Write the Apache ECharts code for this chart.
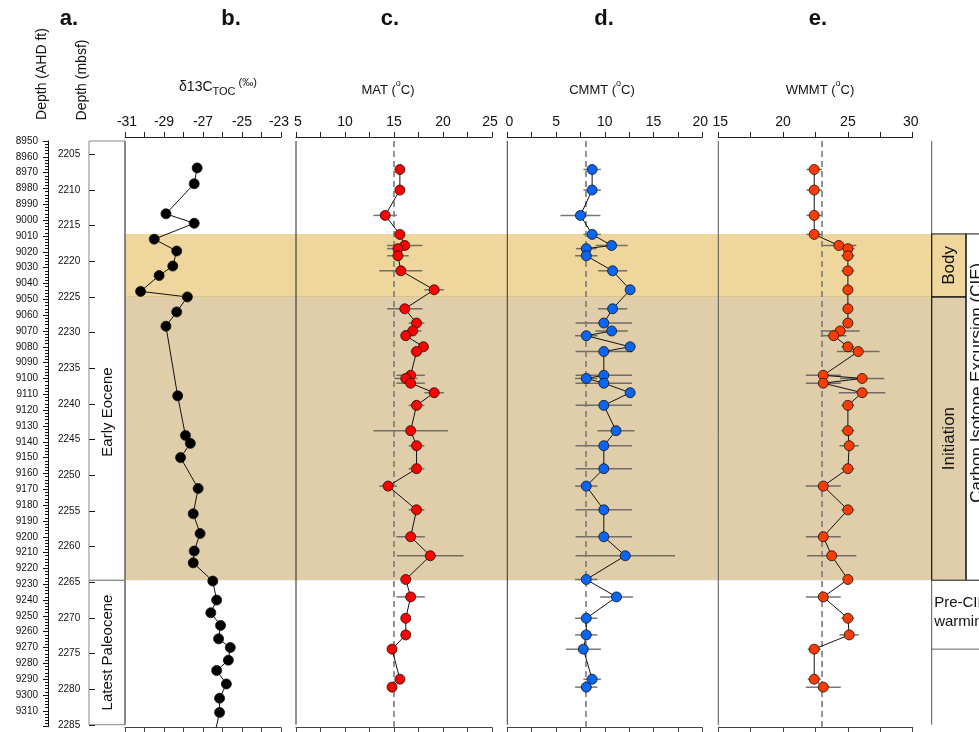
<!DOCTYPE html>
<html><head><meta charset="utf-8">
<script src="https://cdn.jsdelivr.net/npm/echarts@6/dist/echarts.min.js"></script>
<style>html,body{margin:0;padding:0;background:#fff}#c{width:979px;height:732px}</style>
</head><body><div id="c"></div>
<script>
// ---------------- DATA ----------------
// b. δ13C TOC (‰) vs depth (AHD ft)
const depthC = [8967, 8977, 8996, 9002, 9012, 9019.5, 9029, 9035, 9045, 9048.5, 9058, 9067, 9111, 9136, 9141, 9150, 9169.5, 9185.5, 9198, 9209, 9216.5, 9228, 9240, 9248, 9256, 9264.5, 9270, 9278, 9284.5, 9293, 9302, 9311, 9330];
const d13C = [-27.3, -27.45, -28.9, -27.45, -29.5, -28.35, -28.55, -29.25, -30.2, -27.8, -28.35, -28.9, -28.3, -27.9, -27.65, -28.15, -27.25, -27.5, -27.15, -27.45, -27.5, -26.5, -26.3, -26.6, -26.1, -26.2, -25.6, -25.7, -26.3, -25.8, -26.15, -26.15, -26.5];

// c, d, e: temperature reconstructions (depth AHD ft)
const depthT = [8968, 8981, 8997, 9009, 9016, 9018, 9022.5, 9032, 9044, 9056, 9065, 9070, 9073, 9080, 9083, 9098, 9100, 9103, 9109, 9117, 9133, 9142.5, 9157, 9168, 9183, 9200, 9212, 9227, 9238, 9251.5, 9262, 9271, 9290, 9295];
const mat    = [15.6, 15.6, 14.1, 15.6, 16.1, 15.4, 15.4, 15.7, 19.1, 16.1, 17.3, 16.9, 16.2, 18.0, 17.3, 16.7, 16.2, 16.7, 19.1, 17.3, 16.7, 17.3, 17.3, 14.4, 17.3, 16.7, 18.7, 16.2, 16.7, 16.2, 16.2, 14.8, 15.6, 14.8];
const matErr = [0, 0, 1.2, 0, 1.8, 1.1, 1.1, 2.2, 1.0, 1.8, 0.8, 0.9, 0, 0, 0.6, 1.45, 1.2, 1.45, 1.0, 0.8, 3.8, 0.8, 0.8, 0.9, 0.8, 1.45, 3.4, 0, 1.45, 0, 0, 0, 0, 0];
const cmmt    = [8.7, 8.7, 7.5, 8.7, 10.7, 8.1, 8.1, 10.8, 12.6, 10.8, 9.9, 10.7, 8.1, 12.6, 9.9, 9.9, 8.1, 9.9, 12.6, 9.9, 11.15, 9.9, 9.9, 8.1, 9.9, 9.9, 12.1, 8.1, 11.2, 8.1, 8.1, 7.8, 8.7, 8.1];
const cmmtErr = [0.9, 0.9, 2.05, 0.9, 1.65, 1.05, 1.15, 1.5, 0, 1.5, 2.9, 1.65, 1.15, 0, 2.9, 2.9, 1.15, 2.9, 0, 2.9, 1.9, 2.9, 2.9, 1.15, 2.9, 2.9, 5.1, 1.15, 1.7, 1.15, 1.15, 1.8, 0.9, 1.15];
const wmmt    = [22.4, 22.4, 22.4, 22.4, 24.3, 25.0, 25.0, 25.0, 25.0, 25.0, 25.0, 24.4, 23.9, 25.0, 25.8, 23.1, 26.1, 23.1, 26.1, 25.0, 25.0, 25.1, 25.0, 23.1, 25.0, 23.1, 23.75, 25.0, 23.1, 25.0, 25.1, 22.4, 22.4, 23.1];
const wmmtErr = [0.6, 0.6, 0.6, 0.6, 1.35, 0.5, 0.5, 0.5, 0.4, 0.4, 0.4, 1.5, 1.0, 0.5, 1.65, 1.35, 1.7, 1.35, 1.8, 0.5, 0.5, 0.75, 0.5, 1.35, 0.5, 1.35, 1.9, 0.4, 1.35, 0.5, 0.75, 0.5, 0.5, 1.35];

// reference (dashed) lines
const matRef = 15, cmmtRef = 8, wmmtRef = 23;

// intervals (depth AHD ft)
const epochs = [[8950, 9227.5], [9227.5, 9320]];
const epochNames = ['Early Eocene', 'Latest Paleocene'];
const cieZones = [[9008.7, 9048.5], [9048.5, 9227.5]];
const cieZoneNames = ['Body', 'Initiation'];
const cieName = 'Carbon Isotope Excursion (CIE)';
const preCie = [9227.5, 9271];
const preCieName = 'Pre-CIE\nwarming';

// axes ranges / ticks
const depthRange = [8950, 9320];
const mbsfRange = [2203.14, 2285.24];
const mbsfTicks = [2205, 2210, 2215, 2220, 2225, 2230, 2235, 2240, 2245, 2250, 2255, 2260, 2265, 2270, 2275, 2280, 2285];
const d13CAxis = [-31, -23, 2];
const matAxis = [5, 25, 5];
const cmmtAxis = [0, 20, 5];
const wmmtAxis = [15, 30, 5];

// ---------------- LAYOUT / STYLE ----------------
const FONT = '"Liberation Sans", Arial, sans-serif';
const TOP = 141, PXFT = 1.583;
const H = (depthRange[1] - depthRange[0]) * PXFT;
const panels = [
  {left: 125, width: 156},
  {left: 296, width: 196},
  {left: 507.3, width: 195},
  {left: 718.3, width: 194.4}
];
const frameX = [125, 296, 507.3, 718.3, 931.7];
const frameColor = ['#111', '#222', '#333', '#555', '#555'];
const bandFill = ['#EFD69C', '#DFCEA9'];
const bandEdge = '#D6BC82';
const epochLabelFrac = [0.617, 0.5];
const plain = v => String(v);

const grids = [
  {left: 89, top: TOP, width: 36, height: H},            // 0 a
  {left: panels[0].left, top: TOP, width: panels[0].width, height: H}, // 1 b
  {left: panels[1].left, top: TOP, width: panels[1].width, height: H}, // 2 c
  {left: panels[2].left, top: TOP, width: panels[2].width, height: H}, // 3 d
  {left: panels[3].left, top: TOP, width: panels[3].width, height: H}, // 4 e
  {left: 125, top: TOP, width: 841, height: H},          // 5 background bands
  {left: 931.7, top: TOP, width: 34.3, height: H}        // 6 CIE column
].map(g => Object.assign({outerBoundsMode: 'none', containLabel: false, show: false}, g));

function hiddenX(gi) {
  return {type: 'value', gridIndex: gi, min: 0, max: 1, show: false};
}
function hiddenY(gi) {
  return {type: 'value', gridIndex: gi, min: depthRange[0], max: depthRange[1], inverse: true, show: false};
}
function topAxis(gi, ax) {
  return {
    type: 'value', gridIndex: gi, position: 'top', min: ax[0], max: ax[1], interval: ax[2], offset: 4,
    axisLine: {show: true, onZero: false, lineStyle: {color: '#222', width: 1}},
    axisTick: {show: true, inside: false, length: 5, lineStyle: {color: '#222', width: 1}},
    minorTick: {show: true, splitNumber: 2, length: 5, lineStyle: {color: '#222', width: 1}},
    axisLabel: {
      show: true, margin: 8, fontSize: 14, color: '#111', fontFamily: FONT, hideOverlap: false,
      formatter: v => v === ax[1] ? '{mx|' + v + '}' : (v === ax[0] ? '{mn|' + v + '}' : String(v)),
      rich: {
        mx: {fontSize: 14, fontFamily: FONT, color: '#111', padding: [0, 4, 0, 0]},
        mn: {fontSize: 14, fontFamily: FONT, color: '#111', padding: [0, 0, 0, 4]}
      }
    },
    splitLine: {show: false}, minorSplitLine: {show: false}
  };
}
function bottomAxis(gi, ax) {
  return {
    type: 'value', gridIndex: gi, position: 'bottom', min: ax[0], max: ax[1], interval: ax[2], offset: 1,
    axisLine: {show: true, onZero: false, lineStyle: {color: '#444', width: 1}},
    axisTick: {show: true, inside: false, length: 5, lineStyle: {color: '#444', width: 1}},
    minorTick: {show: true, splitNumber: 2, length: 5, lineStyle: {color: '#444', width: 1}},
    axisLabel: {show: false},
    splitLine: {show: false}, minorSplitLine: {show: false}
  };
}

const xAxes = [
  hiddenX(0),                                 // 0
  topAxis(1, d13CAxis), bottomAxis(1, d13CAxis), // 1,2
  topAxis(2, matAxis), bottomAxis(2, matAxis),   // 3,4
  topAxis(3, cmmtAxis), bottomAxis(3, cmmtAxis), // 5,6
  topAxis(4, wmmtAxis), bottomAxis(4, wmmtAxis), // 7,8
  hiddenX(5),                                 // 9
  hiddenX(6)                                  // 10
];

const yAxes = [
  { // 0 depth AHD ft
    type: 'value', gridIndex: 0, position: 'left', offset: 41, inverse: true,
    min: depthRange[0], max: depthRange[1], interval: 10,
    axisLine: {show: true, onZero: false, lineStyle: {color: '#111', width: 1}},
    axisTick: {show: true, inside: false, length: 5, lineStyle: {color: '#111'}},
    minorTick: {show: true, splitNumber: 5, length: 3, lineStyle: {color: '#111'}},
    axisLabel: {show: true, margin: 10, fontSize: 10, color: '#111', fontFamily: FONT, showMaxLabel: false, hideOverlap: false, formatter: plain},
    splitLine: {show: false}
  },
  { // 1 depth mbsf
    type: 'value', gridIndex: 0, position: 'left', offset: 41, inverse: true,
    min: mbsfRange[0], max: mbsfRange[1],
    axisLine: {show: false},
    axisTick: {show: true, inside: true, length: 6, customValues: mbsfTicks, lineStyle: {color: '#111'}},
    axisLabel: {show: true, inside: true, margin: 10, fontSize: 10, color: '#111', fontFamily: FONT, customValues: mbsfTicks, formatter: plain},
    splitLine: {show: false}
  },
  hiddenY(1), hiddenY(2), hiddenY(3), hiddenY(4), hiddenY(5), hiddenY(6)
];

function errBarSeries(xi, yi, vals, errs, ref) {
  return {
    type: 'custom', xAxisIndex: xi, yAxisIndex: yi, z: 3, silent: true,
    data: depthT.map((d, i) => [vals[i], d, errs[i]]),
    encode: {x: 0, y: 1},
    renderItem: function (params, api) {
      const v = api.value(0), d = api.value(1), e = api.value(2);
      if (!e) return null;
      const p1 = api.coord([v - e, d]), p2 = api.coord([v + e, d]);
      return {type: 'line', shape: {x1: p1[0], y1: p1[1], x2: p2[0], y2: p2[1]},
              style: {stroke: 'rgba(85,85,85,0.8)', lineWidth: 1.5}};
    },
    markLine: {
      silent: true, symbol: ['none', 'none'], label: {show: false},
      lineStyle: {color: '#7a7a7a', type: [6, 4], width: 1.6},
      data: [{xAxis: ref}]
    }
  };
}
function lineSeries(xi, yi, vals, depths, fill) {
  return {
    type: 'line', xAxisIndex: xi, yAxisIndex: yi, z: 5, silent: true,
    data: depths.map((d, i) => [vals[i], d]),
    symbol: 'circle', symbolSize: 10, showSymbol: true,
    itemStyle: {color: fill, borderColor: '#111', borderWidth: 0.8},
    lineStyle: {color: '#111', width: 1},
    clip: true
  };
}

const series = [
  { // background CIE bands
    type: 'custom', xAxisIndex: 9, yAxisIndex: 6, z: 0, silent: true,
    data: cieZones, encode: {x: -1, y: [0, 1]},
    renderItem: function (params, api) {
      const cs = params.coordSys, i = params.dataIndex;
      const y1 = api.coord([0, api.value(0)])[1], y2 = api.coord([0, api.value(1)])[1];
      const ch = [{type: 'rect', shape: {x: cs.x, y: y1, width: cs.width, height: y2 - y1}, style: {fill: bandFill[i]}}];
      if (i === 0) ch.push({type: 'line', shape: {x1: cs.x, y1: y2, x2: cs.x + cs.width, y2: y2}, style: {stroke: bandEdge, lineWidth: 1.2}});
      return {type: 'group', children: ch};
    }
  },
  { // epoch boxes (a)
    type: 'custom', xAxisIndex: 0, yAxisIndex: 0, z: 2, silent: true,
    data: epochs, encode: {x: -1, y: [0, 1]},
    renderItem: function (params, api) {
      const cs = params.coordSys, i = params.dataIndex;
      const y1 = api.coord([0, api.value(0)])[1];
      const y2 = Math.min(api.coord([0, api.value(1)])[1], cs.y + cs.height - 2);
      return {type: 'group', children: [
        {type: 'rect', shape: {x: cs.x, y: y1, width: cs.width, height: y2 - y1}, style: {fill: 'none', stroke: '#888', lineWidth: 1}},
        {type: 'text', x: cs.x + cs.width / 2 + 0.5, y: y1 + epochLabelFrac[i] * (y2 - y1), rotation: Math.PI / 2,
         style: {text: epochNames[i], fontSize: 15, fontFamily: FONT, fill: '#111', align: 'center', verticalAlign: 'middle'}}
      ]};
    }
  },
  { // CIE phase boxes
    type: 'custom', xAxisIndex: 10, yAxisIndex: 7, z: 2, silent: true,
    data: cieZones, encode: {x: -1, y: [0, 1]},
    renderItem: function (params, api) {
      const cs = params.coordSys, i = params.dataIndex;
      const y1 = api.coord([0, api.value(0)])[1], y2 = api.coord([0, api.value(1)])[1];
      return {type: 'group', children: [
        {type: 'rect', shape: {x: cs.x, y: y1, width: cs.width, height: y2 - y1}, style: {fill: 'none', stroke: '#111', lineWidth: 1}},
        {type: 'text', x: cs.x + cs.width / 2 + 0.5, y: (y1 + y2) / 2, rotation: Math.PI / 2,
         style: {text: cieZoneNames[i], fontSize: 17, fontFamily: FONT, fill: '#111', align: 'center', verticalAlign: 'middle'}}
      ]};
    }
  },
  { // CIE box + pre-CIE warming
    type: 'custom', xAxisIndex: 10, yAxisIndex: 7, z: 2, silent: true,
    data: [[cieZones[0][0], cieZones[cieZones.length - 1][1], preCie[0], preCie[1]]], encode: {x: -1, y: [0, 1]},
    renderItem: function (params, api) {
      const cs = params.coordSys;
      const y1 = api.coord([0, api.value(0)])[1], y2 = api.coord([0, api.value(1)])[1];
      const p1 = api.coord([0, api.value(2)])[1], p2 = api.coord([0, api.value(3)])[1];
      const x0 = cs.x + cs.width;
      return {type: 'group', children: [
        {type: 'rect', shape: {x: x0, y: y1, width: 80, height: y2 - y1}, style: {fill: 'none', stroke: '#111', lineWidth: 1}},
        {type: 'text', x: x0 + 11, y: y1 + 0.43 * (y2 - y1), rotation: Math.PI / 2,
         style: {text: cieName, fontSize: 17, fontFamily: FONT, fill: '#111', align: 'center', verticalAlign: 'middle'}},
        {type: 'line', shape: {x1: cs.x, y1: p2, x2: cs.x + 120, y2: p2}, style: {stroke: '#666', lineWidth: 1}},
        {type: 'line', shape: {x1: cs.x, y1: p1, x2: cs.x + 120, y2: p1}, style: {stroke: '#666', lineWidth: 1}},
        {type: 'text', x: cs.x + 2.5, y: p1 + 13,
         style: {text: preCieName, fontSize: 15, lineHeight: 19, fontFamily: FONT, fill: '#111', align: 'left', verticalAlign: 'top'}}
      ]};
    }
  },
  lineSeries(1, 2, d13C, depthC, '#000'),
  errBarSeries(3, 3, mat, matErr, matRef),
  lineSeries(3, 3, mat, depthT, '#FF0000'),
  errBarSeries(5, 4, cmmt, cmmtErr, cmmtRef),
  lineSeries(5, 4, cmmt, depthT, '#0A66F2'),
  errBarSeries(7, 5, wmmt, wmmtErr, wmmtRef),
  lineSeries(7, 5, wmmt, depthT, '#FF3C00')
];

const graphics = [];
frameX.forEach((x, i) => graphics.push({
  type: 'line', z: 1, silent: true,
  shape: {x1: x, y1: TOP, x2: x, y2: TOP + H - 2},
  style: {stroke: frameColor[i], lineWidth: 1}
}));
[['a.', 69], ['b.', 231], ['c.', 390], ['d.', 604], ['e.', 818]].forEach(p => graphics.push({
  type: 'text', x: p[1], y: 19, z: 10,
  style: {text: p[0], fontSize: 22, fontWeight: 'bold', fontFamily: FONT, fill: '#111', align: 'center', verticalAlign: 'middle'}
}));
graphics.push({type: 'text', x: 42, y: 74, rotation: Math.PI / 2, z: 10,
  style: {text: 'Depth (AHD ft)', fontSize: 14, fontFamily: FONT, fill: '#111', align: 'center', verticalAlign: 'middle'}});
graphics.push({type: 'text', x: 82, y: 80, rotation: Math.PI / 2, z: 10,
  style: {text: 'Depth (mbsf)', fontSize: 14, fontFamily: FONT, fill: '#111', align: 'center', verticalAlign: 'middle'}});
graphics.push({type: 'text', x: 218, y: 87, z: 10,
  style: {text: '{n|δ13C}{b|TOC}{s| (‰)}', align: 'center', verticalAlign: 'middle', fill: '#111',
    rich: {n: {fontSize: 14, fontFamily: FONT, lineHeight: 20, verticalAlign: 'middle'},
           b: {fontSize: 11, fontFamily: FONT, lineHeight: 20, verticalAlign: 'bottom'},
           s: {fontSize: 11, fontFamily: FONT, lineHeight: 20, verticalAlign: 'top'}}}});
[['MAT', 388], ['CMMT', 602], ['WMMT', 820]].forEach(p => graphics.push({
  type: 'text', x: p[1], y: 88, z: 10,
  style: {text: '{n|' + p[0] + ' (}{s|o}{n|C)}', align: 'center', verticalAlign: 'middle', fill: '#111',
    rich: {n: {fontSize: 13, fontFamily: FONT, lineHeight: 18, verticalAlign: 'bottom'},
           s: {fontSize: 9, fontFamily: FONT, lineHeight: 18, verticalAlign: 'top'}}}
}));

const chart = echarts.init(document.getElementById('c'), null, {renderer: 'canvas'});
chart.setOption({
  animation: false,
  backgroundColor: '#fff',
  grid: grids,
  xAxis: xAxes,
  yAxis: yAxes,
  series: series,
  graphic: graphics
});
</script></body></html>
